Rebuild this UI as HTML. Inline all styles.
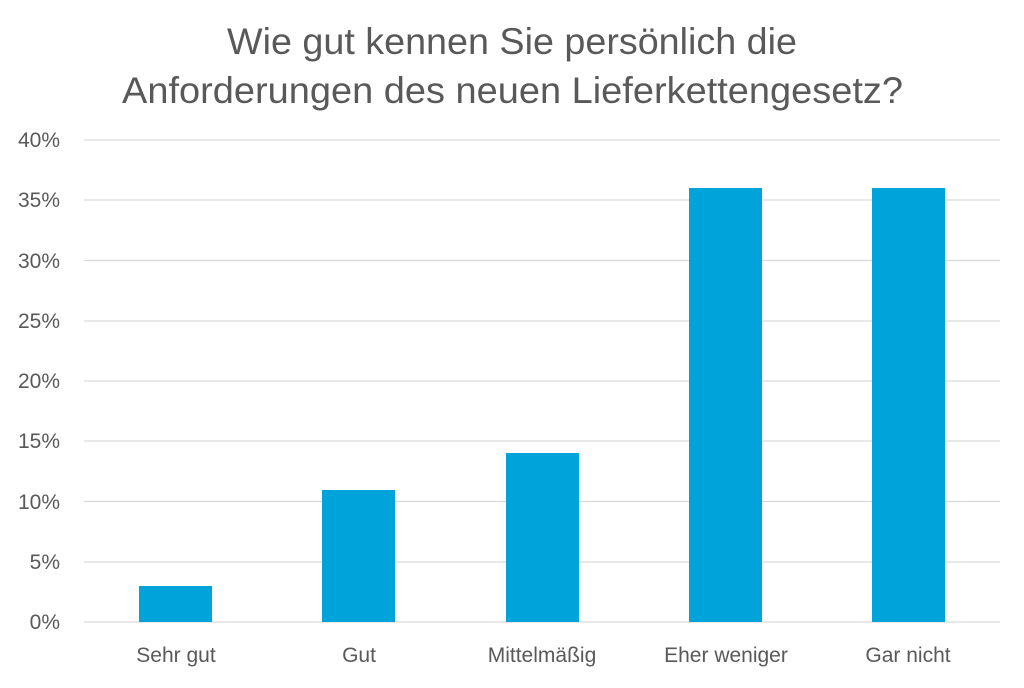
<!DOCTYPE html>
<html><head><meta charset="utf-8"><style>
body{margin:0;background:#fff;}
svg text{font-family:"Liberation Sans",sans-serif;fill:#595959;}
</style></head><body>
<svg width="1024" height="683" xmlns="http://www.w3.org/2000/svg">
<rect width="1024" height="683" fill="#fff"/>
<text x="227" y="54" font-size="37" textLength="570" lengthAdjust="spacingAndGlyphs">Wie gut kennen Sie persönlich die</text>
<text x="122" y="103" font-size="37" textLength="781" lengthAdjust="spacingAndGlyphs">Anforderungen des neuen Lieferkettengesetz?</text>
<g stroke="#d9d9d9" stroke-width="1.3">
<line x1="84" x2="1000" y1="140" y2="140"/>
<line x1="84" x2="1000" y1="200" y2="200"/>
<line x1="84" x2="1000" y1="260.5" y2="260.5"/>
<line x1="84" x2="1000" y1="321" y2="321"/>
<line x1="84" x2="1000" y1="381" y2="381"/>
<line x1="84" x2="1000" y1="441" y2="441"/>
<line x1="84" x2="1000" y1="501.5" y2="501.5"/>
<line x1="84" x2="1000" y1="562" y2="562"/>
<line x1="84" x2="1000" y1="622" y2="622"/>
</g>
<g font-size="21" text-anchor="end">
<text x="60" y="147">40%</text>
<text x="60" y="207">35%</text>
<text x="60" y="268">30%</text>
<text x="60" y="328">25%</text>
<text x="60" y="388">20%</text>
<text x="60" y="448">15%</text>
<text x="60" y="509">10%</text>
<text x="60" y="569">5%</text>
<text x="60" y="629">0%</text>
</g>
<g fill="#00a3da">
<rect x="139" y="586" width="73" height="36"/>
<rect x="322" y="490" width="73" height="132"/>
<rect x="506" y="453" width="73" height="169"/>
<rect x="689" y="188" width="73" height="434"/>
<rect x="872" y="188" width="73" height="434"/>
</g>
<g font-size="21" text-anchor="middle">
<text x="176" y="662">Sehr gut</text>
<text x="359" y="662">Gut</text>
<text x="542" y="662">Mittelmäßig</text>
<text x="726" y="662">Eher weniger</text>
<text x="908" y="662">Gar nicht</text>
</g>
</svg>
</body></html>
